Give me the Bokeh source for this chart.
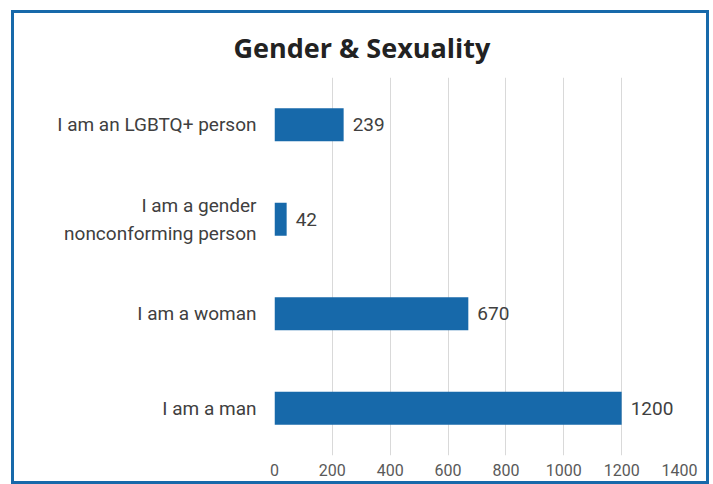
from bokeh.plotting import figure
from bokeh.models import Range1d, FactorRange, FixedTicker, ColumnDataSource
from bokeh.core.properties import value
from bokeh.embed import file_html
from bokeh.resources import INLINE

title = "Gender & Sexuality"
categories = ["I am an LGBTQ+ person", "I am a gender\nnonconforming person", "I am a woman", "I am a man"]
counts = [239, 42, 670, 1200]
x_ticks = [0, 200, 400, 600, 800, 1000, 1200, 1400]

BLUE = "#1769aa"
TEXT = "#404040"

factors = list(reversed(categories))
src = ColumnDataSource(dict(cat=categories, val=counts, lbl=[str(v) for v in counts]))

p = figure(width=698, height=474, y_range=FactorRange(factors=factors, range_padding=0),
           x_range=Range1d(0, 1400), output_backend="svg", toolbar_location=None,
           min_border_left=260, min_border_right=33, min_border_top=64, min_border_bottom=32,
           title=title)
p.styles = {"border": "3px solid #1769aa", "margin-left": "11px", "margin-top": "10px"}
p.outline_line_color = None
p.background_fill_color = "white"
p.border_fill_color = "white"

p.title.align = "left"
p.title.offset = -41
p.title.standoff = 23
p.title.text_font = "Open Sans"
p.title.text_font_style = "bold"
p.title.text_font_size = "27px"
p.title.text_color = "#222222"

p.hbar(y="cat", right="val", left=0, height=0.35, source=src, color=BLUE, line_color=None)
p.text(x="val", y="cat", text="lbl", source=src, x_offset=9, text_align="left",
       text_baseline="middle", text_font=value("Roboto"), text_font_size="19px", text_color=TEXT)

p.xaxis.ticker = FixedTicker(ticks=x_ticks)
p.xaxis.axis_line_color = None
p.xaxis.major_tick_line_color = None
p.xaxis.minor_tick_line_color = None
p.xaxis.major_label_text_font = "Roboto"
p.xaxis.major_label_text_font_size = "16px"
p.xaxis.major_label_text_color = "#595959"
p.xaxis.major_label_standoff = 2

p.yaxis.axis_line_color = None
p.yaxis.major_tick_line_color = None
p.yaxis.minor_tick_line_color = None
p.yaxis.major_label_text_font = "Roboto"
p.yaxis.major_label_text_font_size = "19px"
p.yaxis.major_label_text_color = TEXT
p.yaxis.major_label_standoff = 12

p.xgrid.grid_line_color = "#d9d9d9"
p.ygrid.grid_line_color = None

open("out.html", "w").write(file_html(p, INLINE))
